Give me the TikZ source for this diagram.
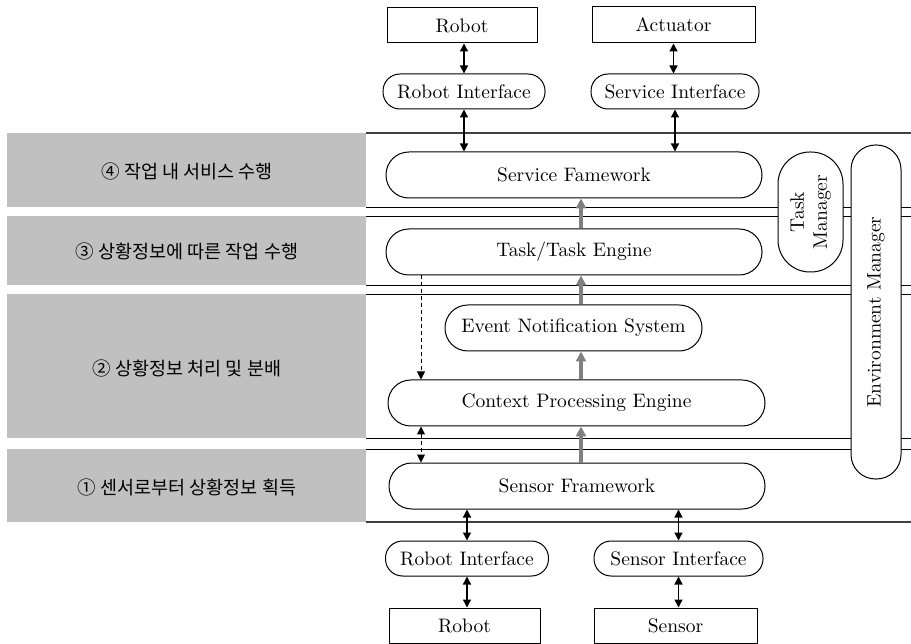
\documentclass[tikz,border=0pt]{standalone}
\usepackage{fontspec}
\setmainfont{lmroman10-regular}[Extension=.otf]
\newfontfamily\krfont{Noto Sans CJK KR}
\usetikzlibrary{arrows.meta}
\definecolor{bandgray}{HTML}{C0C0C0}
\definecolor{flowgray}{HTML}{808080}
\definecolor{rulegray}{HTML}{404040}
\begin{document}
\begin{tikzpicture}[x=1pt,y=-1pt,
  font=\fontsize{19.5}{23}\selectfont,
  blk/.style={draw, line width=1pt, rectangle, inner sep=0pt, fill=white},
  pill/.style={draw, line width=1pt, rectangle, inner sep=0pt, fill=white, rounded corners=#1},
  band/.style={fill=bandgray, draw=none},
  bandtext/.style={font=\krfont\fontsize{18.5}{22}\selectfont},
  layer/.style={line width=0.9pt, draw=black},
  outer/.style={line width=1.6pt, draw=rulegray},
  dbl/.style={line width=1.3pt, {Triangle[length=8pt,width=8pt]}-{Triangle[length=8pt,width=8pt]}},
  dsh/.style={line width=1pt, dash pattern=on 4pt off 3pt, -{Triangle[length=8pt,width=8pt]}},
  dshdbl/.style={line width=1pt, dash pattern=on 4pt off 3pt, {Triangle[length=8pt,width=8pt]}-{Triangle[length=8pt,width=8pt]}},
  flow/.style={line width=3.5pt, draw=flowgray, -{Triangle[length=10pt,width=10pt]}},
]
\useasboundingbox (0,0) rectangle (911,644);

% layer bands with their labels
\fill[band] (7,133) rectangle (366,207);
\fill[band] (7,216) rectangle (366,285);
\fill[band] (7,294) rectangle (366,438);
\fill[band] (7,449) rectangle (366,522);
\node[bandtext] (l4) at (187,171) {④ 작업 내 서비스 수행};
\node[bandtext] (l3) at (187,251) {③ 상황정보에 따른 작업 수행};
\node[bandtext] (l2) at (187,368) {② 상황정보 처리 및 분배};
\node[bandtext] (l1) at (187,487) {① 센서로부터 상황정보 획득};

% layer boundaries
\draw[outer] (366,133) -- (911,133);
\draw[layer] (366,207) -- (911,207);
\draw[layer] (366,216) -- (911,216);
\draw[layer] (366,285) -- (911,285);
\draw[layer] (366,294) -- (911,294);
\draw[layer] (366,438) -- (911,438);
\draw[layer] (366,449) -- (911,449);
\draw[outer] (366,522) -- (911,522);

% managers spanning the layers
\node[pill=32pt, rotate=90, minimum width=120pt, minimum height=65pt, align=center] (tm) at (810.5,212) {Task\\Manager};
\node[pill=24.5pt, rotate=90, minimum width=334pt, minimum height=50pt] (em) at (876,312) {Environment Manager};

% devices and interfaces on top
\node[blk, minimum width=150pt, minimum height=35pt] (robotT) at (462,25.5) {Robot};
\node[blk, minimum width=163pt, minimum height=36pt] (actT) at (673.5,25) {Actuator};
\node[pill=17pt, minimum width=162pt, minimum height=35pt] (riT) at (464,91.5) {Robot Interface};
\node[pill=17pt, minimum width=168pt, minimum height=35pt] (siT) at (675,91.5) {Service Interface};

% framework components
\node[pill=22.8pt, minimum width=376pt, minimum height=46pt] (sf) at (574,175) {Service Famework};
\node[pill=22.8pt, minimum width=376pt, minimum height=46pt] (te) at (574,252) {Task/Task Engine};
\node[pill=22.8pt, minimum width=257pt, minimum height=46pt] (ens) at (573.5,328) {Event Notification System};
\node[pill=22.8pt, minimum width=377pt, minimum height=46pt] (cpe) at (576.5,403) {Context Processing Engine};
\node[pill=22.8pt, minimum width=376pt, minimum height=46pt] (sfw) at (577,486) {Sensor Framework};

% devices and interfaces at the bottom
\node[pill=17pt, minimum width=163pt, minimum height=35pt] (riB) at (467,558.5) {Robot Interface};
\node[pill=17pt, minimum width=169pt, minimum height=35pt] (siB) at (678.5,558.5) {Sensor Interface};
\node[blk, minimum width=151pt, minimum height=35pt] (robotB) at (464.5,625.5) {Robot};
\node[blk, minimum width=163pt, minimum height=35pt] (sensorB) at (675.5,625.5) {Sensor};

% connector columns
\coordinate (gx) at (581,0);
\coordinate (dx) at (421,0);

% device links
\draw[dbl] (riT.north |- robotT.south) -- (riT.north);
\draw[dbl] (actT.south) -- (actT.south |- siT.north);
\draw[dbl] (riT.south) -- (riT.south |- sf.north);
\draw[dbl] (siT.south) -- (siT.south |- sf.north);
\draw[dbl] (riB.north |- sfw.south) -- (riB.north);
\draw[dbl] (siB.north |- sfw.south) -- (siB.north);
\draw[dbl] (riB.south) -- (riB.south |- robotB.north);
\draw[dbl] (siB.south) -- (siB.south |- sensorB.north);

% context flow upwards
\draw[flow] (gx |- sfw.north) -- (gx |- cpe.south);
\draw[flow] (gx |- cpe.north) -- (gx |- ens.south);
\draw[flow] (gx |- ens.north) -- (gx |- te.south);
\draw[flow] (gx |- te.north) -- (gx |- sf.south);

% control links
\draw[dsh] (dx |- te.south) -- (dx |- cpe.north);
\draw[dshdbl] (dx |- cpe.south) -- (dx |- sfw.north);
\end{tikzpicture}
\end{document}
